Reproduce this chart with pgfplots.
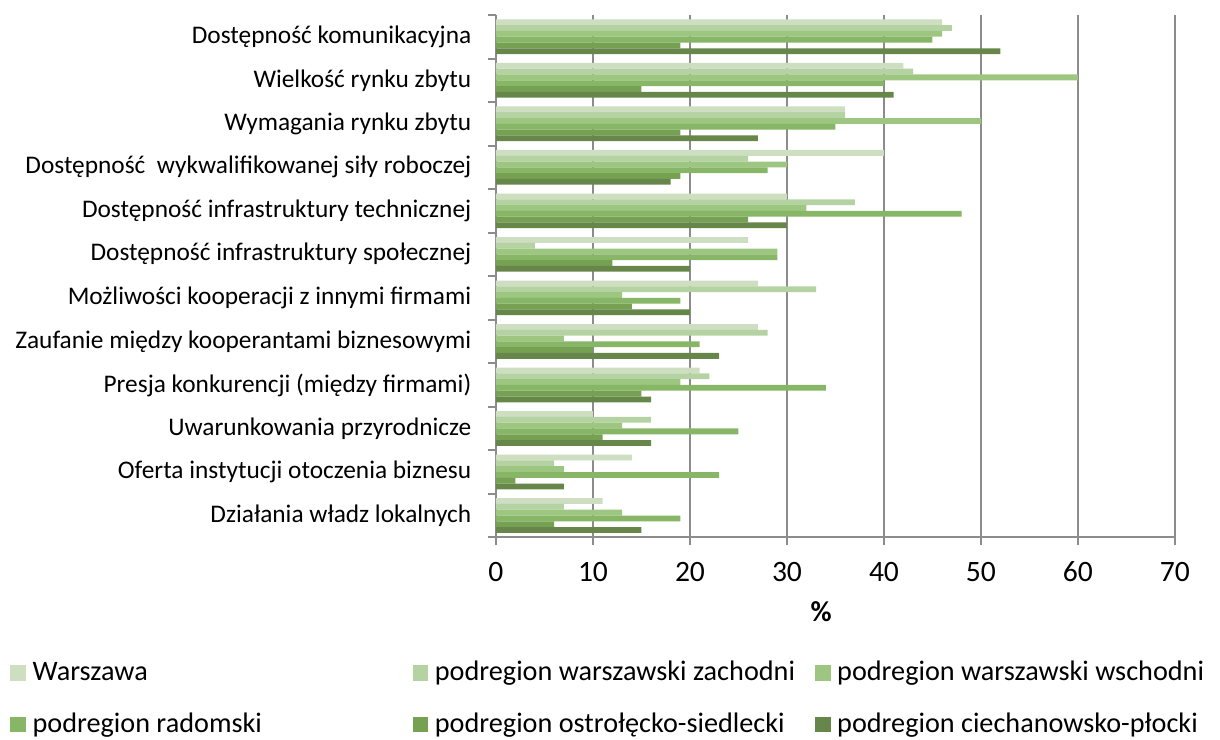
\documentclass[border=0pt]{standalone}
\usepackage{fontspec}
\setmainfont{Carlito}
\usepackage{pgfplots}
\usepackage{pgfplotstable}
\pgfplotsset{compat=1.18}

\definecolor{c1}{HTML}{CDDEC1}
\definecolor{c2}{HTML}{B5D2A2}
\definecolor{c3}{HTML}{9DC680}
\definecolor{c4}{HTML}{86B666}
\definecolor{c5}{HTML}{76A153}
\definecolor{c6}{HTML}{66864A}
\definecolor{gridgray}{HTML}{8C8C8C}

% y: 11 = top category
\pgfplotstableread{
y  w  z  ws r  o  c
11 46 47 46 45 19 52
10 42 43 60 40 15 41
9  36 36 50 35 19 27
8  40 26 30 28 19 18
7  30 37 32 48 26 30
6  26 4  29 29 12 20
5  27 33 13 19 14 20
4  27 28 7  21 10 23
3  21 22 19 34 15 16
2  10 16 13 25 11 16
1  14 6  7  23 2  7
0  11 7  13 19 6  15
}\data

\begin{document}
\begin{tikzpicture}
\begin{axis}[
    xbar,
    scale only axis,
    width=305.5pt, height=235pt,
    xmin=0, xmax=70, ymin=-0.5, ymax=11.5,
    xtick={0,10,...,70},
    ytick={0,...,11},
    yticklabels={Działania władz lokalnych,
        Oferta instytucji otoczenia biznesu,
        Uwarunkowania przyrodnicze,
        Presja konkurencji (między firmami),
        Zaufanie między kooperantami biznesowymi,
        Możliwości kooperacji z innymi firmami,
        Dostępność infrastruktury społecznej,
        Dostępność infrastruktury technicznej,
        Dostępność~ wykwalifikowanej siły roboczej,
        Wymagania rynku zbytu,
        Wielkość rynku zbytu,
        Dostępność komunikacyjna},
    minor ytick={-0.5,0.5,...,11.5},
    bar width=2.6pt,
    axis lines*=left,
    axis line style={-, draw=gridgray, line width=0.9pt},
    xmajorgrids,
    grid style={draw=gridgray, line width=0.9pt},
    tick align=outside,
    tick style={draw=gridgray, line width=0.9pt},
    major tick length=3.6pt,
    minor tick length=3.6pt,
    major y tick style={draw=none},
    minor y tick style={draw=gridgray, line width=0.9pt},
    /pgf/number format/assume math mode=true,
    xticklabel style={font=\fontsize{13.3}{16}\selectfont, yshift=-4pt},
    yticklabel style={font=\fontsize{11.4}{13}\selectfont, xshift=-4pt},
    xlabel={\textbf{\%}},
    xlabel style={font=\fontsize{13}{16}\selectfont, yshift=-2pt, xshift=-6.5pt},
    legend columns=3,
    legend cell align=left,
    legend style={at={(rel axis cs:-0.7158,-0.228)}, anchor=north west,
        draw=none, fill=none, inner sep=0pt,
        font=\fontsize{12.7}{15}\selectfont,
        /tikz/every even column/.append style={column sep=0pt},
        row sep=9pt},
    legend image code/.code={\fill[#1] (0pt,-3.5pt) rectangle (7pt,3.5pt);
        \path (8pt,0pt);},
]
\addplot[fill=c1, draw=none, bar shift=6.5pt] table[x=w, y=y] {\data};
\addlegendentry{\makebox[169pt][l]{Warszawa}}
\addplot[fill=c2, draw=none, bar shift=3.9pt] table[x=z, y=y] {\data};
\addlegendentry{\makebox[169pt][l]{podregion warszawski zachodni}}
\addplot[fill=c3, draw=none, bar shift=1.3pt] table[x=ws, y=y] {\data};
\addlegendentry{podregion warszawski wschodni}
\addplot[fill=c4, draw=none, bar shift=-1.3pt] table[x=r, y=y] {\data};
\addlegendentry{podregion radomski}
\addplot[fill=c5, draw=none, bar shift=-3.9pt] table[x=o, y=y] {\data};
\addlegendentry{podregion ostrołęcko-siedlecki}
\addplot[fill=c6, draw=none, bar shift=-6.5pt] table[x=c, y=y] {\data};
\addlegendentry{podregion ciechanowsko-płocki}
\coordinate (bbsw) at (rel axis cs:-0.7305,-0.387);
\coordinate (bbne) at (rel axis cs:1.0663,1.0287);
\end{axis}
\pgfresetboundingbox
\path[use as bounding box] (bbsw) rectangle (bbne);
\end{tikzpicture}
\end{document}
